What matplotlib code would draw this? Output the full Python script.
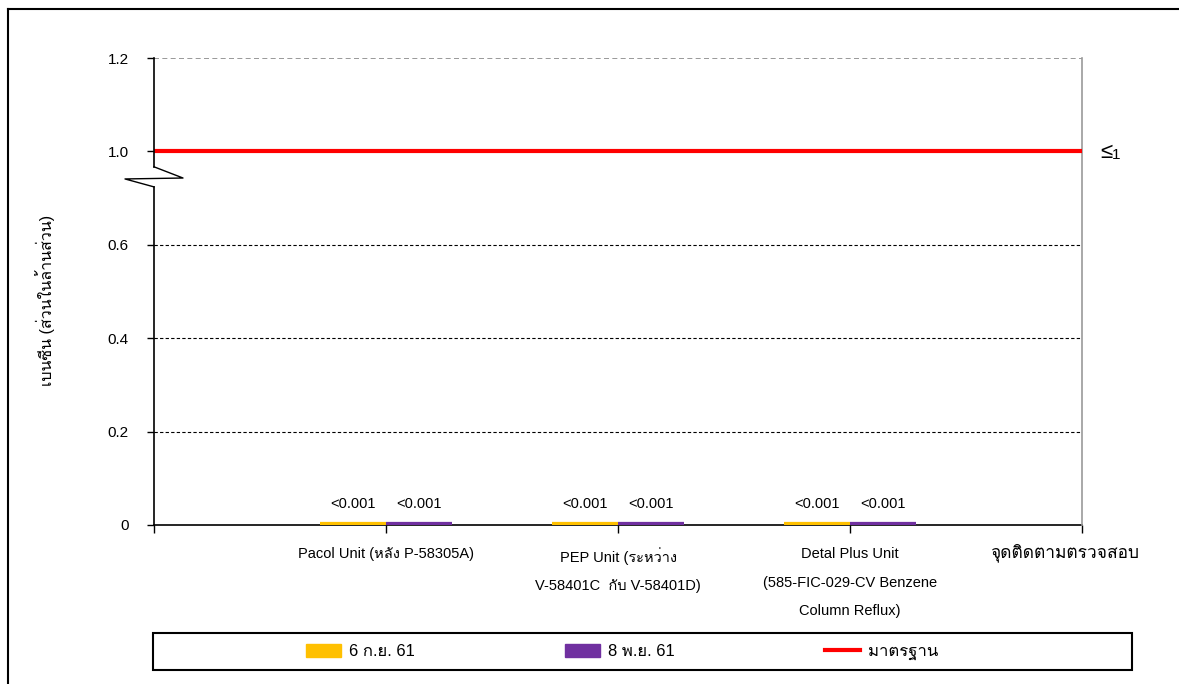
import numpy as np
import matplotlib
matplotlib.use('Agg')
import matplotlib.pyplot as plt
from matplotlib import font_manager
from matplotlib.ft2font import FT2Font
from matplotlib.patches import Rectangle
from matplotlib.lines import Line2D

# find any installed font that carries Thai glyphs
thai_family = None
for f in font_manager.fontManager.ttflist:
    try:
        if 0x0E01 in FT2Font(f.fname).get_charmap():
            thai_family = f.name
            break
    except Exception:
        pass

families = ['Liberation Sans']
if thai_family:
    families.append(thai_family)
families.append('DejaVu Sans')
plt.rcParams['font.family'] = families

categories = ['Pacol Unit (หลัง P-58305A)',
              'PEP Unit (ระหว่าง\nV-58401C  กับ V-58401D)',
              'Detal Plus Unit\n(585-FIC-029-CV Benzene\nColumn Reflux)']
series_names = ['6 ก.ย. 61', '8 พ.ย. 61']
values_sep = [0.001, 0.001, 0.001]
values_nov = [0.001, 0.001, 0.001]
value_labels = ['<0.001', '<0.001', '<0.001']
standard = 1.0
standard_name = 'มาตรฐาน'
y_ticks = [0, 0.2, 0.4, 0.6, 1.0, 1.2]
y_ticklabels = ['0', '0.2', '0.4', '0.6', '1.0', '1.2']
x_title = 'จุดติดตามตรวจสอบ'
y_title = 'เบนซีน (ส่วนในล้านส่วน)'


# broken axis: 0.6..1.0 squeezed into half a step
def fwd(y):
    y = np.asarray(y, dtype=float)
    return np.where(y <= 0.6, y, np.where(y >= 1.0, y - 0.2, 0.6 + (y - 0.6) * 0.5))


def inv(u):
    u = np.asarray(u, dtype=float)
    return np.where(u <= 0.6, u, np.where(u >= 0.8, u + 0.2, 0.6 + (u - 0.6) * 2.0))


W, H = 1179, 684
fig = plt.figure(figsize=(W / 100, H / 100), dpi=100)
ax = fig.add_axes([154 / W, 1 - 525 / H, 928 / W, 467 / H])
ax.set_yscale('function', functions=(fwd, inv))

x = np.arange(1, len(categories) + 1)
w = 0.285
yellow = '#FFC000'
purple = '#7030A0'
# tiny values: a thick edge keeps the bars visible on the axis
b1 = ax.bar(x - w / 2, values_sep, w, color=yellow, edgecolor=yellow, linewidth=4.5, zorder=3)
b2 = ax.bar(x + w / 2, values_nov, w, color=purple, edgecolor=purple, linewidth=4.5, zorder=3)
for bars in (b1, b2):
    for rect, lab in zip(bars, value_labels):
        ax.annotate(lab, (rect.get_x() + rect.get_width() / 2, rect.get_height()),
                    xytext=(0, 15), textcoords='offset points',
                    ha='center', va='center', fontsize=10.5)

ax.axhline(standard, color='#FF0000', lw=3, zorder=4)

ax.set_xlim(0, 4)
ax.set_ylim(0, 1.2)

for g in [0.2, 0.4, 0.6]:
    ax.axhline(g, color='black', lw=0.8, ls=(0, (3, 2)), zorder=1)
ax.axhline(1.2, color='#888888', lw=1.2, ls=(0, (3, 2)), zorder=1)

ax.set_yticks(y_ticks)
ax.set_yticklabels(y_ticklabels, fontsize=11)
ax.yaxis.set_minor_locator(matplotlib.ticker.NullLocator())
ax.set_xticks(np.arange(0, 5))
ax.set_xticklabels([''] + categories + [''], fontsize=10.5, linespacing=2.3)
ax.tick_params(axis='y', direction='out', length=5, width=1, pad=13)
ax.tick_params(axis='x', direction='out', length=6, width=1, pad=10)

ax.spines['top'].set_visible(False)
ax.spines['left'].set_visible(False)
ax.spines['right'].set_color('#999999')
ax.spines['right'].set_linewidth(1.2)
ax.spines['bottom'].set_linewidth(1.2)
ax.spines['bottom'].set_zorder(2)

# left axis drawn in two pieces with a break mark between them
lo, hi = 0.724, 0.767
ax.plot([0, 0], [0, lo], transform=ax.transAxes, color='black', lw=1.2, clip_on=False, zorder=5)
ax.plot([0, 0], [hi, 1], transform=ax.transAxes, color='black', lw=1.2, clip_on=False, zorder=5)
dx = 29 / 928
ax.plot([0, dx, -dx, 0], [hi, 0.743, 0.741, lo], transform=ax.transAxes,
        color='black', lw=1, clip_on=False, zorder=5)

fig.text(45 / W, 1 - 300 / H, y_title, rotation=90, ha='center', va='center', fontsize=11.5)
fig.text(1065 / W, 1 - 553 / H, x_title, ha='center', va='center', fontsize=12.5)
fig.text(1100 / W, 1 - 152 / H, '≤', ha='left', va='center', fontsize=16)
fig.text(1112 / W, 1 - 155 / H, '1', ha='left', va='center', fontsize=11)

# legend inside a drawn frame
fig.patches.append(Rectangle((153 / W, 1 - 670 / H), 979 / W, 37 / H, transform=fig.transFigure,
                             fill=False, edgecolor='black', lw=1.5))
handles = [Rectangle((0, 0), 1, 1, color=yellow), Rectangle((0, 0), 1, 1, color=purple),
           Line2D([0], [0], color='#FF0000', lw=3)]
fig.legend(handles, series_names + [standard_name], ncol=3, frameon=False,
           loc='center', bbox_to_anchor=(622 / W, 1 - 652 / H), fontsize=12,
           handlelength=2.1, handleheight=0.9, handletextpad=0.5, columnspacing=9.0)

# outer chart border (top and left edges)
fig.add_artist(Line2D([8 / W, 8 / W], [0, 1 - 9 / H], transform=fig.transFigure, color='black', lw=1.5))
fig.add_artist(Line2D([8 / W, 1], [1 - 9 / H, 1 - 9 / H], transform=fig.transFigure, color='black', lw=1.5))

fig.savefig('out.png', dpi=100)
